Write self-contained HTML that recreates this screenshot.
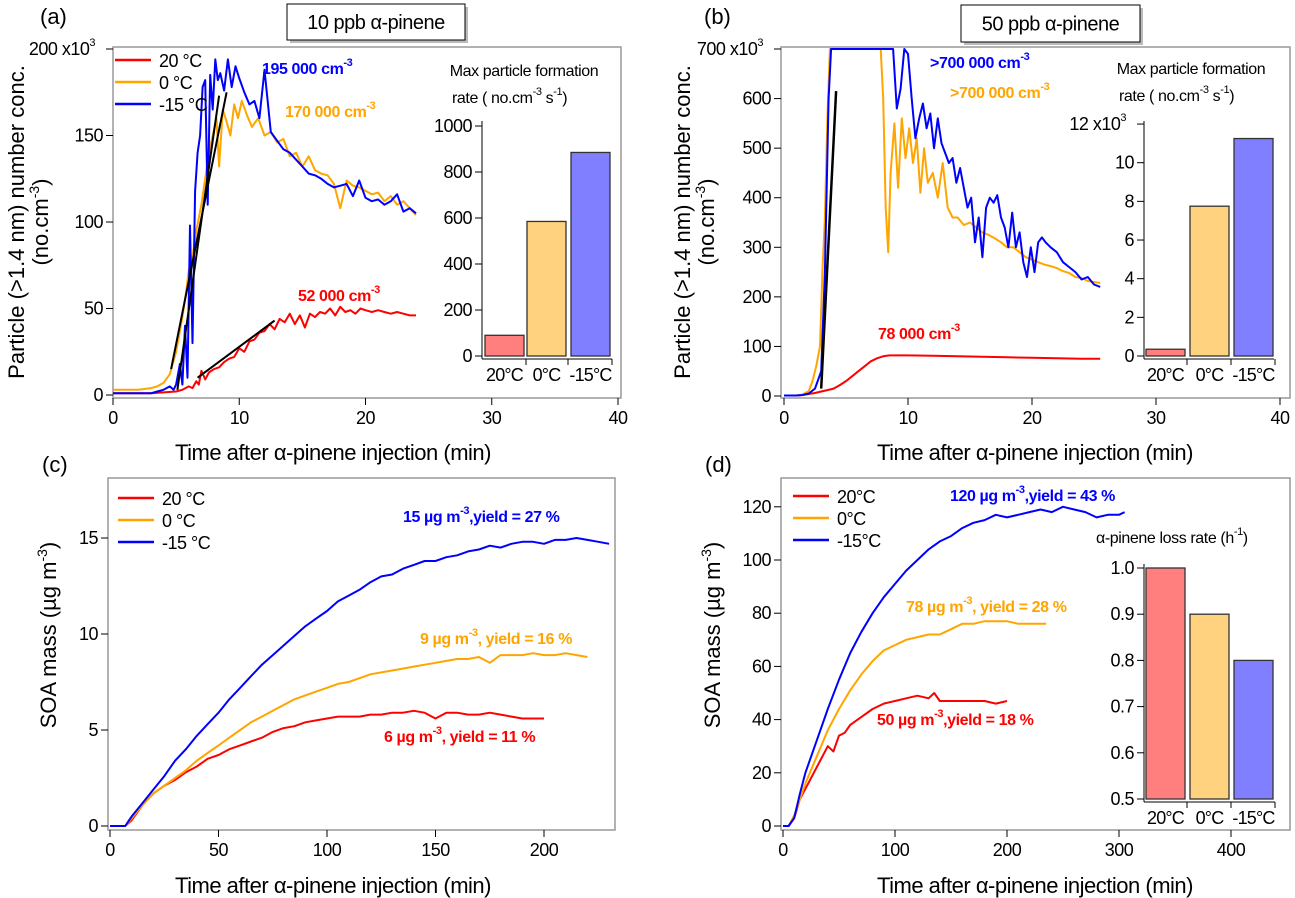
<!DOCTYPE html>
<html><head><meta charset="utf-8">
<style>
body{margin:0;background:#fff;}
svg{display:block;font-family:"Liberation Sans Narrow","Liberation Sans",sans-serif;}
</style></head>
<body>
<svg id="fig" width="1295" height="898" viewBox="0 0 1295 898" xmlns="http://www.w3.org/2000/svg"></svg>
<script>
// ---------- DATA ----------
const aRedT=[0,1,2,3,4,5,5.5,6,6.3,6.6,6.8,7,7.3,7.6,8,8.4,8.8,9.2,9.6,10,10.4,10.8,11.2,11.6,12,12.4,12.8,13.2,13.6,14,14.4,14.8,15.2,15.6,16,16.4,16.8,17.2,17.6,18,18.4,18.8,19.2,19.6,20,20.5,21,21.5,22,22.5,23,23.5,24];
const aRedV=[1,1,1,1,1.5,2,3,5,4,8,6,14,9,13,15,16,19,21,22,27,25,31,32,36,37,41,38,44,42,47,41,46,39,47,45,48,47,50,46,51,48,49,47,50,49,48,49,48,47,48,47,46,46];
const aOrT=[0,1,2,3,3.5,4,4.5,5,5.5,5.8,6,6.3,6.6,7,7.3,7.6,7.9,8.2,8.4,8.7,9,9.3,9.6,9.9,10.2,10.6,11,11.5,12,12.5,13,13.5,14,14.5,15,15.5,16,16.5,17,17.5,18,18.5,19,19.5,20,20.5,21,21.5,22,22.5,23,23.5,24];
const aOrV=[3,3,3,4,5,7,12,25,45,60,72,80,95,110,125,140,150,160,132,165,158,150,168,160,170,162,155,160,150,152,146,148,138,140,132,138,130,128,127,122,108,124,121,120,118,116,117,112,115,110,112,108,104];
const aBlT=[0,1,2,3,3.5,4,4.5,4.8,5,5.3,5.5,5.7,5.9,6.1,6.3,6.5,6.7,6.9,7.1,7.3,7.5,7.7,7.9,8.1,8.3,8.5,8.8,9.1,9.4,9.7,10,10.4,10.8,11.2,11.6,12,12.5,13,13.5,14,14.5,15,15.5,16,16.5,17,17.5,18,18.5,19,19.5,20,20.5,21,21.5,22,22.5,23,23.5,24];
const aBlV=[1,1,1,1,2,3,5,3,6,18,6,40,10,98,30,118,140,150,178,182,110,185,165,194,182,186,176,194,178,190,183,175,168,170,160,188,152,147,142,140,136,132,128,127,125,122,120,121,122,115,124,114,112,113,110,112,116,106,108,105];
const aFitRed=[[6.7,10],[12.8,43]];
const aFitOr=[[4.6,15],[9,175]];
const aFitBl=[[5.1,3],[8.4,173]];
const barCats=["20\u00b0C","0\u00b0C","-15\u00b0C"];
const aBars=[90,585,885];
const bRedT=[0,1,1.5,2,2.5,3,3.5,4,4.5,5,5.5,6,6.5,7,7.5,8,8.5,9,10,12,14,16,18,20,22,24,25.5];
const bRedV=[1,1,2,4,6,9,12,15,22,30,40,50,60,70,76,80,82,82,82,81,80,79,78,77,76,75,75];
const bOrT=[0,1,1.5,2,2.3,2.6,2.9,3.1,3.3,3.5,3.7,3.9,4.2,4.6,5,6,7,7.8,8.0,8.2,8.4,8.6,8.9,9.2,9.5,9.8,10.1,10.4,10.7,11,11.3,11.6,12,12.4,12.8,13.2,13.6,14,14.5,15,15.5,16,16.5,17,17.5,18,18.5,19,19.5,20,20.5,21,21.5,22,22.5,23,23.5,24,24.5,25,25.5];
const bOrV=[1,1,3,10,30,60,100,250,360,560,700,700,700,700,700,700,700,700,600,380,290,450,550,420,560,480,540,470,520,410,500,430,450,400,470,380,360,360,345,350,340,330,325,318,310,300,300,290,280,275,270,265,262,258,252,248,240,238,232,230,228];
const bBlT=[0,1,1.5,2,2.5,3,3.3,3.6,3.8,4,5,6,7,8,8.8,9.1,9.4,9.7,10,10.3,10.6,10.9,11.2,11.5,11.8,12.1,12.4,12.7,13,13.3,13.6,13.9,14.2,14.5,14.8,15.1,15.4,15.7,16,16.3,16.6,16.9,17.2,17.5,17.8,18.1,18.4,18.7,19,19.3,19.6,19.9,20.2,20.5,20.8,21.1,21.5,22,22.5,23,23.5,24,24.5,25,25.5];
const bBlV=[1,1,2,5,15,50,250,600,700,700,700,700,700,700,700,580,620,700,690,600,520,560,590,540,570,500,560,510,490,470,480,430,460,420,380,400,310,360,280,380,400,390,405,360,340,300,370,300,330,270,240,300,250,310,320,310,300,290,270,260,250,235,240,225,220];
const bFit=[[3.0,15],[4.2,615]];
const bBars=[0.35,7.75,11.25];
const cT=[0,7,10,15,20,25,30,35,40,45,50,55,60,65,70,75,80,85,90,95,100,105,110,115,120,125,130,135,140,145,150,155,160,165,170,175,180,185,190,195,200,205,210,215,220,225,230];
const cBlue=[0,0,0.5,1.2,1.9,2.6,3.4,4.0,4.7,5.3,5.9,6.6,7.2,7.8,8.4,8.9,9.4,9.9,10.4,10.8,11.2,11.7,12.0,12.3,12.7,13.0,13.1,13.4,13.6,13.8,13.8,14.0,14.1,14.3,14.4,14.6,14.5,14.7,14.8,14.8,14.7,14.9,14.9,15.0,14.9,14.8,14.7];
const cOrT=[0,7,10,15,20,25,30,35,40,45,50,55,60,65,70,75,80,85,90,95,100,105,110,115,120,125,130,135,140,145,150,155,160,165,170,175,180,185,190,195,200,205,210,215,220];
const cOr=[0,0,0.4,1.1,1.7,2.1,2.5,2.9,3.4,3.8,4.2,4.6,5.0,5.4,5.7,6.0,6.3,6.6,6.8,7.0,7.2,7.4,7.5,7.7,7.9,8.0,8.1,8.2,8.3,8.4,8.5,8.6,8.7,8.7,8.8,8.5,8.9,8.9,8.9,9.0,8.9,8.9,9.0,8.9,8.8];
const cRedT=[0,7,10,15,20,25,30,35,40,45,50,55,60,65,70,75,80,85,90,95,100,105,110,115,120,125,130,135,140,145,150,155,160,165,170,175,180,185,190,195,200];
const cRed=[0,0,0.3,1.1,1.7,2.1,2.4,2.8,3.1,3.5,3.7,4.0,4.2,4.4,4.6,4.9,5.1,5.2,5.4,5.5,5.6,5.7,5.7,5.7,5.8,5.8,5.9,5.9,6.0,5.9,5.6,5.9,5.9,5.8,5.8,5.9,5.8,5.7,5.6,5.6,5.6];
const dBlT=[0,5,10,15,20,30,40,50,60,70,80,90,100,110,120,130,140,150,160,170,180,190,200,210,220,230,240,250,260,270,280,290,300,305];
const dBlue=[0,0,3,12,20,32,44,55,65,73,80,86,91,96,100,104,107,109,112,114,115,117,116,117,118,119,118,120,119,118,116,117,117,118];
const dOrT=[0,5,10,20,30,40,50,60,70,80,90,100,110,120,130,140,150,160,170,180,190,200,210,220,235];
const dOr=[0,0,4,16,26,36,44,51,57,62,66,68,70,71,72,72,74,76,76,77,77,77,76,76,76];
const dRedT=[0,5,10,15,20,30,40,45,50,55,60,70,80,90,100,110,120,130,135,140,150,160,170,180,190,200];
const dRed=[0,0,3,10,14,22,30,28,34,35,38,41,44,46,47,48,49,48,50,47,47,47,47,47,46,47];
const dBars=[1.0,0.9,0.8];

// ---------- HELPERS ----------
const NS="http://www.w3.org/2000/svg";
const svg=document.getElementById('fig');
function el(tag,attrs,parent){const e=document.createElementNS(NS,tag);for(const k in attrs)e.setAttribute(k,attrs[k]);(parent||svg).appendChild(e);return e;}
function txt(x,y,s,opts,name){
  const t=el('text',Object.assign({x:x,y:y,'font-size':17,fill:'#000'},opts||{}));
  t.textContent=s;
  
  
  return t;
}
function supTxt(x,y,parts,opts,name){
  const t=el('text',Object.assign({x:x,y:y,'font-size':16,fill:'#000','letter-spacing':-0.4},opts||{}));
  
  
  parts.forEach(p=>{const s=el('tspan',p[1]?{'font-size':11,dy:-8}:{dy:p[2]||0},t);s.textContent=p[0];});
  return t;
}
function line(xs,ys,X,Y,color,name,w){
  let d='';
  for(let i=0;i<xs.length;i++){d+=(i?'L':'M')+X(xs[i]).toFixed(1)+','+Y(ys[i]).toFixed(1);}
  const p=el('path',{d:d,fill:'none',stroke:color,'stroke-width':w||2,'stroke-linejoin':'round'});
  
  
  return p;
}
function frame(x0,y0,x1,y1,name){
  const r=el('rect',{x:x0,y:y0,width:x1-x0,height:y1-y0,fill:'none',stroke:'#999','stroke-width':1.5});
  
  
}
function yTicks(vals,labels,xAxis,Y,name,expLast){
  vals.forEach((v,i)=>{
    const tk=el('line',{x1:xAxis-7,x2:xAxis,y1:Y(v),y2:Y(v),stroke:'#000','stroke-width':1});
    
    
    if(expLast && i===vals.length-1){
      const t=txt(xAxis-18,Y(v)+6,labels[i],{'text-anchor':'end','font-size':18,'letter-spacing':-0.5},name+'-label');
      const s=el('tspan',{'font-size':11,dy:-9},t);s.textContent='3';
    } else {
      txt(xAxis-10,Y(v)+6,labels[i],{'text-anchor':'end','font-size':18,'letter-spacing':-0.5},name+'-label');
    }
  });
}
function xTicks(vals,labels,X,yAxis,name){
  vals.forEach((v,i)=>{
    const tk=el('line',{x1:X(v),x2:X(v),y1:yAxis,y2:yAxis+7,stroke:'#000','stroke-width':1});
    
    
    txt(X(v),yAxis+26,labels[i],{'text-anchor':'middle','font-size':18,'letter-spacing':-0.5},name+'-label');
  });
}
const barColors=['#ff7f7f','#ffd27f','#7f7fff'];
function bars(vals,axisX,Y,base,x0s,w,name,right){
  el('line',{x1:axisX,x2:axisX,y1:Y(base)+3,y2:Y(base)-235,stroke:'#000','stroke-width':1});
  const ax=el('line',{x1:axisX,x2:right,y1:Y(base)+3,y2:Y(base)+3,stroke:'#000','stroke-width':1});
  
  
  vals.forEach((v,i)=>{
    const r=el('rect',{x:x0s[i],y:Y(v),width:w,height:Y(base)-Y(v),fill:barColors[i],stroke:'#333','stroke-width':1.3});
    
    
    txt(x0s[i]+w/2,Y(base)+25,barCats[i],{'text-anchor':'middle','font-size':18,'letter-spacing':-0.8},name+'-category-label');
    el('line',{x1:x0s[i]+w+2,x2:x0s[i]+w+2,y1:Y(base)+3,y2:Y(base)+9,stroke:'#000'});
  });
}
function legend(x,y,fs,labels){
  const cols=['#ff0000','#ffa500','#0000ff'];
  labels.forEach((l,i)=>{
    const ln=el('line',{x1:x,x2:x+36,y1:y+i*22,y2:y+i*22,stroke:cols[i],'stroke-width':2.5});
    
    
    txt(x+44,y+i*22+7,l,{'font-size':fs,'letter-spacing':-0.5},'legend-entry');
  });
}
function titleBox(x,y,w,h,s){
  el('rect',{x:x+3,y:y+3,width:w,height:h,fill:'#bbb'});
  const r=el('rect',{x:x,y:y,width:w,height:h,fill:'#fff',stroke:'#000','stroke-width':1});
  
  
  txt(x+w/2,y+h/2+7,s,{'text-anchor':'middle','font-size':20,'letter-spacing':-0.5},'panel-title');
}
function yTitle(x,y,s,sup,tail,name){
  const t=el('text',{x:0,y:0,'font-size':22,'text-anchor':'middle',transform:`translate(${x},${y}) rotate(-90)`,'font-family':'"Liberation Sans",sans-serif'});
  
  
  const a=el('tspan',{},t);a.textContent=s;
  if(sup){const b=el('tspan',{'font-size':14,dy:-9},t);b.textContent=sup;const c=el('tspan',{dy:9},t);c.textContent=tail;}
}
const B='#0000ff',O='#ffa500',R='#ff0000';
const boldO={'font-weight':'bold','font-size':16};

// ---------- PANEL A ----------
{
const X=t=>113+t*12.625, Y=v=>395-v*1.73;
txt(40,24,'(a)',{'font-size':22,'font-family':'"Liberation Sans",sans-serif'},'panel-label-a');
titleBox(287,4,178,36,'10 ppb \u03b1-pinene');
frame(113,47,621,398,'plot-frame-a');
yTicks([0,50,100,150,200],['0','50','100','150','200 x10'],113,Y,'y-axis-a',true);
xTicks([0,10,20,30,40],['0','10','20','30','40'],X,398,'x-axis-a');
txt(333,460,'Time after \u03b1-pinene injection (min)',{'text-anchor':'middle','font-size':22,'letter-spacing':-0.5},'x-axis-title-a');
yTitle(24,222,'Particle (>1.4 nm) number conc.',null,null,'y-axis-title-a');
yTitle(48,222,'(no.cm','-3',')','y-axis-title-a-units');
line(aRedT,aRedV,X,Y,R,'series-20c-a');
line(aOrT,aOrV,X,Y,O,'series-0c-a');
line(aBlT,aBlV,X,Y,B,'series-minus15c-a');
[aFitRed,aFitOr,aFitBl].forEach(f=>line(f.map(p=>p[0]),f.map(p=>p[1]),X,Y,'#000','fit-line-a',2));
legend(115,60,18,['20 \u00b0C','0 \u00b0C','-15 \u00b0C']);
supTxt(262,74,[['195 000 cm'],['-3',1]],Object.assign({fill:B},boldO),'annotation-blue-a');
supTxt(285,117,[['170 000 cm'],['-3',1]],Object.assign({fill:O},boldO),'annotation-orange-a');
supTxt(298,301,[['52 000 cm'],['-3',1]],Object.assign({fill:R},boldO),'annotation-red-a');
txt(524,76,'Max particle formation',{'text-anchor':'middle','font-size':16,'letter-spacing':-0.4},'inset-title-a');
supTxt(452,103,[['rate ( no.cm'],['-3',1],[' s',0,8],['-1',1],[')',0,8]],{'font-size':16},'inset-title-a-2');
const YI=v=>356-v*0.23;
yTicks([0,200,400,600,800,1000],['0','200','400','600','800','1000'],482,YI,'inset-y-axis-a');
bars(aBars,482,YI,0,[485,527,571],39,'inset-a',612);
}
// ---------- PANEL B ----------
{
const X=t=>784+t*12.4, Y=v=>396-v*0.4957;
txt(704,24,'(b)',{'font-size':22,'font-family':'"Liberation Sans",sans-serif'},'panel-label-b');
titleBox(961,5,179,37,'50 ppb \u03b1-pinene');
frame(781,47,1290,398,'plot-frame-b');
yTicks([0,100,200,300,400,500,600,700],['0','100','200','300','400','500','600','700 x10'],781,Y,'y-axis-b',true);
xTicks([0,10,20,30,40],['0','10','20','30','40'],X,398,'x-axis-b');
txt(1035,460,'Time after \u03b1-pinene injection (min)',{'text-anchor':'middle','font-size':22,'letter-spacing':-0.5},'x-axis-title-b');
yTitle(690,222,'Particle (>1.4 nm) number conc.',null,null,'y-axis-title-b');
yTitle(714,222,'(no.cm','-3',')','y-axis-title-b-units');
line(bRedT,bRedV,X,Y,R,'series-20c-b');
line(bOrT,bOrV,X,Y,O,'series-0c-b');
line(bBlT,bBlV,X,Y,B,'series-minus15c-b');
line(bFit.map(p=>p[0]),bFit.map(p=>p[1]),X,Y,'#000','fit-line-b',2.5);
supTxt(930,68,[['>700 000 cm'],['-3',1]],Object.assign({fill:B},boldO),'annotation-blue-b');
supTxt(950,98,[['>700 000 cm'],['-3',1]],Object.assign({fill:O},boldO),'annotation-orange-b');
supTxt(878,339,[['78 000 cm'],['-3',1]],Object.assign({fill:R},boldO),'annotation-red-b');
txt(1191,74,'Max particle formation',{'text-anchor':'middle','font-size':16,'letter-spacing':-0.4},'inset-title-b');
supTxt(1119,101,[['rate ( no.cm'],['-3',1],[' s',0,8],['-1',1],[')',0,8]],{'font-size':16},'inset-title-b-2');
const YI=v=>356-v*19.33;
yTicks([0,2,4,6,8,10,12],['0','2','4','6','8','10','12 x10'],1144,YI,'inset-y-axis-b',true);
bars(bBars,1144,YI,0,[1146,1190,1234],39,'inset-b',1274);
}
// ---------- PANEL C ----------
{
const X=t=>110+t*2.17, Y=v=>826-v*19.2;
txt(42,472,'(c)',{'font-size':22,'font-family':'"Liberation Sans",sans-serif'},'panel-label-c');
frame(108,478,615,830,'plot-frame-c');
yTicks([0,5,10,15],['0','5','10','15'],108,Y,'y-axis-c');
xTicks([0,50,100,150,200],['0','50','100','150','200'],X,830,'x-axis-c');
txt(333,893,'Time after \u03b1-pinene injection (min)',{'text-anchor':'middle','font-size':22,'letter-spacing':-0.5},'x-axis-title-c');
yTitle(56,635,'SOA mass (\u00b5g m','-3',')','y-axis-title-c');
line(cRedT,cRed,X,Y,R,'series-20c-c');
line(cOrT,cOr,X,Y,O,'series-0c-c');
line(cT,cBlue,X,Y,B,'series-minus15c-c');
legend(118,498,18,['20 \u00b0C','0 \u00b0C','-15 \u00b0C']);
supTxt(403,522,[['15 \u00b5g m'],['-3',1],[',yield =  27 %',0,8]],Object.assign({fill:B},boldO),'annotation-blue-c');
supTxt(420,644,[['9 \u00b5g m'],['-3',1],[', yield = 16 %',0,8]],Object.assign({fill:O},boldO),'annotation-orange-c');
supTxt(384,742,[['6 \u00b5g m'],['-3',1],[', yield = 11 %',0,8]],Object.assign({fill:R},boldO),'annotation-red-c');
}
// ---------- PANEL D ----------
{
const X=t=>783+t*1.12, Y=v=>826-v*2.66;
txt(705,472,'(d)',{'font-size':22,'font-family':'"Liberation Sans",sans-serif'},'panel-label-d');
frame(781,478,1290,830,'plot-frame-d');
yTicks([0,20,40,60,80,100,120],['0','20','40','60','80','100','120'],781,Y,'y-axis-d');
xTicks([0,100,200,300,400],['0','100','200','300','400'],X,830,'x-axis-d');
txt(1035,893,'Time after \u03b1-pinene injection (min)',{'text-anchor':'middle','font-size':22,'letter-spacing':-0.5},'x-axis-title-d');
yTitle(720,635,'SOA mass (\u00b5g m','-3',')','y-axis-title-d');
line(dRedT,dRed,X,Y,R,'series-20c-d');
line(dOrT,dOr,X,Y,O,'series-0c-d');
line(dBlT,dBlue,X,Y,B,'series-minus15c-d');
legend(793,496,18,['20\u00b0C','0\u00b0C','-15\u00b0C']);
supTxt(950,501,[['120 \u00b5g m'],['-3',1],[',yield = 43 %',0,8]],Object.assign({fill:B},boldO),'annotation-blue-d');
supTxt(906,612,[['78 \u00b5g m'],['-3',1],[', yield = 28 %',0,8]],Object.assign({fill:O},boldO),'annotation-orange-d');
supTxt(877,725,[['50 \u00b5g m'],['-3',1],[',yield = 18 %',0,8]],Object.assign({fill:R},boldO),'annotation-red-d');
supTxt(1096,543,[['\u03b1-pinene loss rate (h'],['-1',1],[')',0,8]],{'font-size':16},'inset-title-d');
const YI=v=>799-(v-0.5)*462;
yTicks([0.5,0.6,0.7,0.8,0.9,1.0],['0.5','0.6','0.7','0.8','0.9','1.0'],1144,YI,'inset-y-axis-d');
bars(dBars,1144,YI,0.5,[1146,1190,1234],39,'inset-d',1275);
}
</script>
</body></html>
